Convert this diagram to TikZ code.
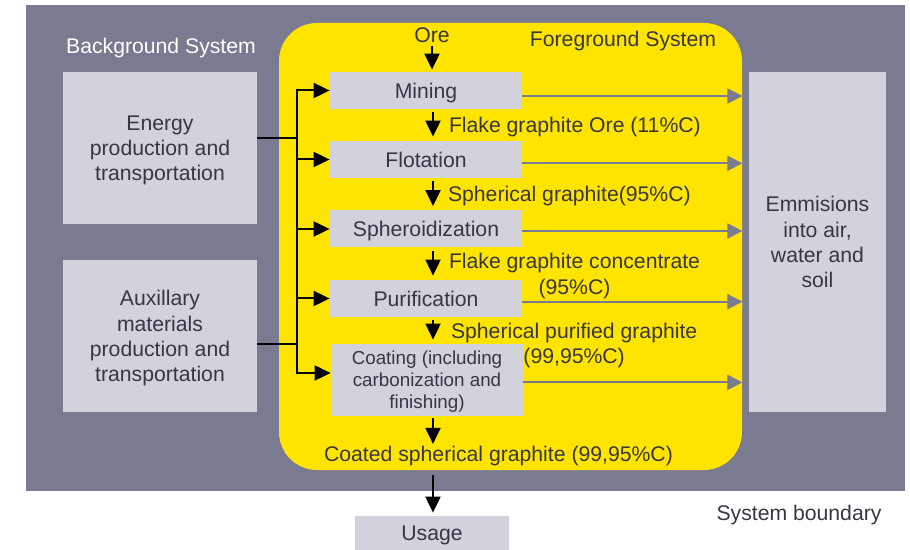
\documentclass[tikz,border=0pt]{standalone}
\usepackage{fontspec}
\setmainfont{Liberation Sans}
\usepackage{tikz}
\usetikzlibrary{positioning,arrows.meta,calc}
\definecolor{sysbg}{RGB}{122,122,145}
\definecolor{boxbg}{RGB}{210,210,220}
\definecolor{fgbg}{RGB}{255,228,0}
\definecolor{txt}{RGB}{55,55,68}
\tikzset{
  bgbox/.style={rectangle, fill=boxbg, text=txt, align=center, inner sep=0pt,
    minimum width=97pt, minimum height=76pt},
  proc/.style={rectangle, fill=boxbg, text=txt, align=center, inner sep=0pt,
    minimum width=96pt, minimum height=18.5pt},
  lbl/.style={inner sep=0pt, text=txt, align=center},
  arr/.style={-{Triangle[length=8pt,width=7.5pt]}, line width=1pt},
  garr/.style={-{Triangle[length=7.5pt,width=7.5pt]}, line width=1pt, draw=sysbg},
}

\begin{document}
\begin{tikzpicture}[x=0.5pt, y=-0.5pt, font=\fontsize{10.6}{12.6}\selectfont,
    every node/.append style={text depth=-0.6pt}]
  \useasboundingbox (0,0) rectangle (910,550);
  \node[fill=sysbg, minimum width=439.5pt, minimum height=243pt, inner sep=0pt] (sys) at (465.5,248) {};
  \node[fill=fgbg, rounded corners=19pt, minimum width=231.5pt, minimum height=223.5pt, inner sep=0pt] (fg) at (510.5,246.5) {};
  \node[lbl, text=white] (bgtitle) at (161,46) {Background System};
  \node[lbl] (fgtitle) at (623,39) {Foreground System};
  \node[lbl] (sysb) at (799,513) {System boundary};

  \node[bgbox] (energy) at (160,148) {Energy\\production and\\transportation};
  \node[bgbox] (aux) at (160,336) {Auxillary\\materials\\production and\\transportation};
  \node[bgbox, minimum width=68.5pt, minimum height=170pt] (emis) at (817.5,242) {Emmisions\\into air,\\water and\\soil};

  \node[lbl] (ore) at (432,35) {Ore};
  \node[proc] (mining) at (426,90.5) {Mining};
  \node[proc] (flot) at (426,159.5) {Flotation};
  \node[proc] (spher) at (426,229) {Spheroidization};
  \node[proc] (purif) at (426,298.5) {Purification};
  \node[proc, minimum height=36pt, font=\fontsize{9.4}{11}\selectfont] (coating) at (427,380) {Coating (including\\carbonization and\\finishing)};
  \node[lbl] (coated) at (498.5,454) {Coated spherical graphite (99,95\%C)};
  \node[proc, minimum width=77pt, minimum height=17pt] (usage) at (432,533) {Usage};

  \coordinate (spine) at (433,0);
  \draw[arr, shorten <=1.5pt, shorten >=1pt] (ore) -- (ore |- mining.north);
  \draw[arr, shorten <=1.5pt, shorten >=2pt] (mining.south -| spine) -- node[lbl, anchor=west, xshift=7.5pt] {Flake graphite Ore (11\%C)} (flot.north -| spine);
  \draw[arr, shorten <=1.5pt, shorten >=2pt] (flot.south -| spine) -- node[lbl, anchor=west, xshift=7pt] {Spherical graphite(95\%C)} (spher.north -| spine);
  \draw[arr, shorten <=1.5pt, shorten >=2pt] (spher.south -| spine) -- node[lbl, anchor=west, xshift=7.5pt, yshift=-5pt] {Flake graphite concentrate\\(95\%C)} (purif.north -| spine);
  \draw[arr, shorten <=1.5pt, shorten >=2pt] (purif.south -| spine) -- node[lbl, anchor=west, xshift=8.5pt, yshift=-6.5pt] {Spherical purified graphite\\(99,95\%C)} (coating.north -| spine);
  \draw[arr, shorten <=1pt, shorten >=1pt] (coating.south -| spine) -- (coated.north -| spine);
  \draw[arr, shorten <=2.5pt, shorten >=1.5pt] (fg.south -| spine) -- (usage.north -| spine);

  \coordinate (bustop) at (297,90.5);
  \coordinate (busbot) at (297,373);
  \coordinate (ejoin) at (297,138);
  \coordinate (ajoin) at (297,344);
  \draw[line width=1pt] (energy.east |- ejoin) -- (ejoin);
  \draw[line width=1pt] (aux.east |- ajoin) -- (ajoin);
  \draw[arr] (busbot) -- (bustop) -- (mining.west);
  \draw[arr] (bustop) -- (busbot) -- (coating.west |- busbot);
  \foreach \b in {flot,spher,purif}
    \draw[arr] (\b.west -| bustop) -- (\b.west);

  \foreach \b/\d in {mining/-2.75, flot/-1.9, spher/-1, purif/-1.6, coating/-1.2}
    \draw[garr] ([yshift=\d pt]\b.east) -- ([yshift=\d pt]\b.east -| fg.east);
\end{tikzpicture}
\end{document}
